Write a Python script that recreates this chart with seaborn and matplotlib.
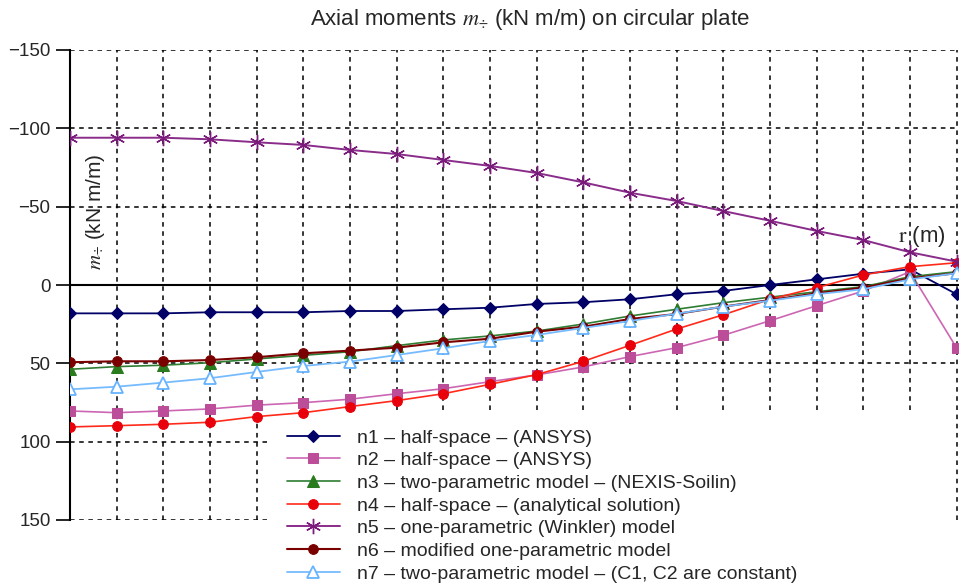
import matplotlib
matplotlib.use("Agg")
import matplotlib.pyplot as plt
import seaborn as sns
from matplotlib.patches import Rectangle

# ---------------- data ----------------
r = list(range(20))
n1 = [18.1, 18.1, 18.1, 17.4, 17.4, 17.4, 16.6, 16.6, 15.5, 14.5, 12.1, 11.0, 9.1, 5.9, 3.8, 0.0, -3.6, -7.2, -10.0, 5.9]
n2 = [80.4, 81.5, 80.4, 79.1, 76.7, 75.1, 72.9, 69.4, 66.2, 61.7, 57.4, 52.3, 45.7, 40.0, 32.1, 22.8, 13.2, 3.8, -8.5, 40.2]
n3 = [53.8, 52.1, 51.2, 49.6, 47.2, 44.9, 42.6, 38.7, 35.1, 32.5, 29.4, 24.9, 19.8, 15.5, 11.3, 7.8, 4.3, 1.1, -5.3, -8.5]
n4 = [90.6, 89.8, 88.9, 87.6, 84.0, 81.5, 77.6, 73.8, 69.4, 63.4, 57.2, 48.7, 38.5, 28.1, 19.0, 9.1, 1.7, -6.4, -11.7, -14.2]
n5 = [-94.0, -94.0, -94.0, -93.0, -91.1, -89.4, -86.2, -83.6, -79.8, -76.0, -71.5, -65.5, -58.9, -53.6, -47.2, -41.0, -34.5, -28.7, -20.9, -14.9]
n6 = [49.3, 48.7, 48.7, 47.9, 46.1, 43.6, 41.9, 40.0, 36.6, 34.3, 29.8, 26.6, 21.7, 18.5, 13.8, 9.6, 5.3, 1.7, -4.3, -7.5]
n7 = [66.6, 64.9, 62.3, 59.5, 55.5, 51.7, 48.9, 44.7, 40.4, 35.7, 31.9, 27.4, 23.0, 18.3, 13.8, 10.0, 5.9, 2.7, -3.6, -7.5]

labels = [
    "n1 \u2013 half-space \u2013 (ANSYS)",
    "n2 \u2013 half-space \u2013 (ANSYS)",
    "n3 \u2013 two-parametric model \u2013 (NEXIS-Soilin)",
    "n4 \u2013 half-space \u2013 (analytical solution)",
    "n5 \u2013 one-parametric (Winkler) model",
    "n6 \u2013 modified one-parametric model",
    "n7 \u2013 two-parametric model \u2013 (C1, C2 are constant)",
]
yticks = [-150, -100, -50, 0, 50, 100, 150]
yticklabels = ["\u2212150", "\u2212100", "\u221250", "0", "50", "100", "150"]

title = r"Axial moments $m_{\div}$ (kN m/m) on circular plate"
ylabel = r"$m_{\div}$ (kN m/m)"
xlabel = r"$\mathrm{r}$ (m)"

# ---------------- style ----------------
sns.set_theme(style="white")
plt.rcParams["font.family"] = ["Liberation Sans", "DejaVu Sans"]
plt.rcParams["mathtext.fontset"] = "stix"

W, H = 959, 583
fig = plt.figure(figsize=(W / 100, H / 100), dpi=100)
ax = fig.add_axes([70 / W, (H - 520) / H, (W - 70) / W, (520 - 50) / H])

styles = [
    dict(color="#000066", marker="D", markersize=6, mfc="#000066", mec="#000066", lw=1.3),
    dict(color="#cc66b3", marker="s", markersize=7.5, mfc="#bb4d99", mec="#bb4d99", lw=1.2),
    dict(color="#2e7d32", marker="^", markersize=8, mfc="#2a7a1e", mec="#2a7a1e", lw=1.2),
    dict(color="#ff2a1a", marker="o", markersize=7, mfc="#e8000a", mec="#e8000a", lw=1.2),
    dict(color="#8a2c8a", marker=(6, 2, 0), markersize=11, mfc="#6a006a", mec="#7a1a7a", lw=1.4, mew=1.0),
    dict(color="#7a0000", marker="o", markersize=7, mfc="#7a0000", mec="#7a0000", lw=1.5),
    dict(color="#77bbff", marker="^", markersize=9, mfc="white", mec="#66b3ff", lw=1.3, mew=1.3),
]
series = [n1, n2, n3, n4, n5, n6, n7]

for ys, lab, st in zip(series, labels, styles):
    sns.lineplot(x=r, y=ys, ax=ax, label=lab, zorder=3, **st)

ax.set_xlim(0, 19.05)
ax.set_ylim(150, -150)
ax.set_yticks(yticks)
ax.set_yticklabels(yticklabels, fontsize=13.5)
ax.set_xticks([])
ax.tick_params(axis="y", direction="out", length=10, width=1.2, color="black", pad=4, left=True)

for s in ["top", "right", "bottom"]:
    ax.spines[s].set_visible(False)
ax.spines["left"].set_color("black")
ax.spines["left"].set_linewidth(1.5)

# dashed grid
for xv in r[1:]:
    ax.axvline(xv, color="black", ls=(0, (3, 3)), lw=1.1, zorder=0.5)
for yv in [-150, -100, -50, 50, 100, 150]:
    ax.axhline(yv, color="black", ls=(0, (3, 3)), lw=1.1, zorder=0.5)
ax.axhline(0, color="black", lw=1.5, zorder=1)

# white area under legend
ax.add_patch(Rectangle((267 / W, 0), (955 - 267) / W, (H - 413) / H, transform=fig.transFigure,
                       facecolor="white", edgecolor="none", zorder=1.5, clip_on=False))

ax.set_xlabel("")
ax.set_ylabel("")
ax.text(17.75, -31, xlabel, fontsize=16, ha="left", va="center", zorder=4)
ax.text(0.55, -47, ylabel, fontsize=15, rotation=90, ha="center", va="center", zorder=4)

fig.text(530 / W, 1 - 20 / H, title, fontsize=16, ha="center", va="center")

leg = ax.legend(loc="upper left", bbox_to_anchor=(287 / W, 1 - 429 / H), bbox_transform=fig.transFigure,
                frameon=False, fontsize=14, handlelength=2.7, handletextpad=0.9,
                labelspacing=0.26, borderpad=0, borderaxespad=0)
leg.set_zorder(5)

fig.savefig("out.png", dpi=100)
